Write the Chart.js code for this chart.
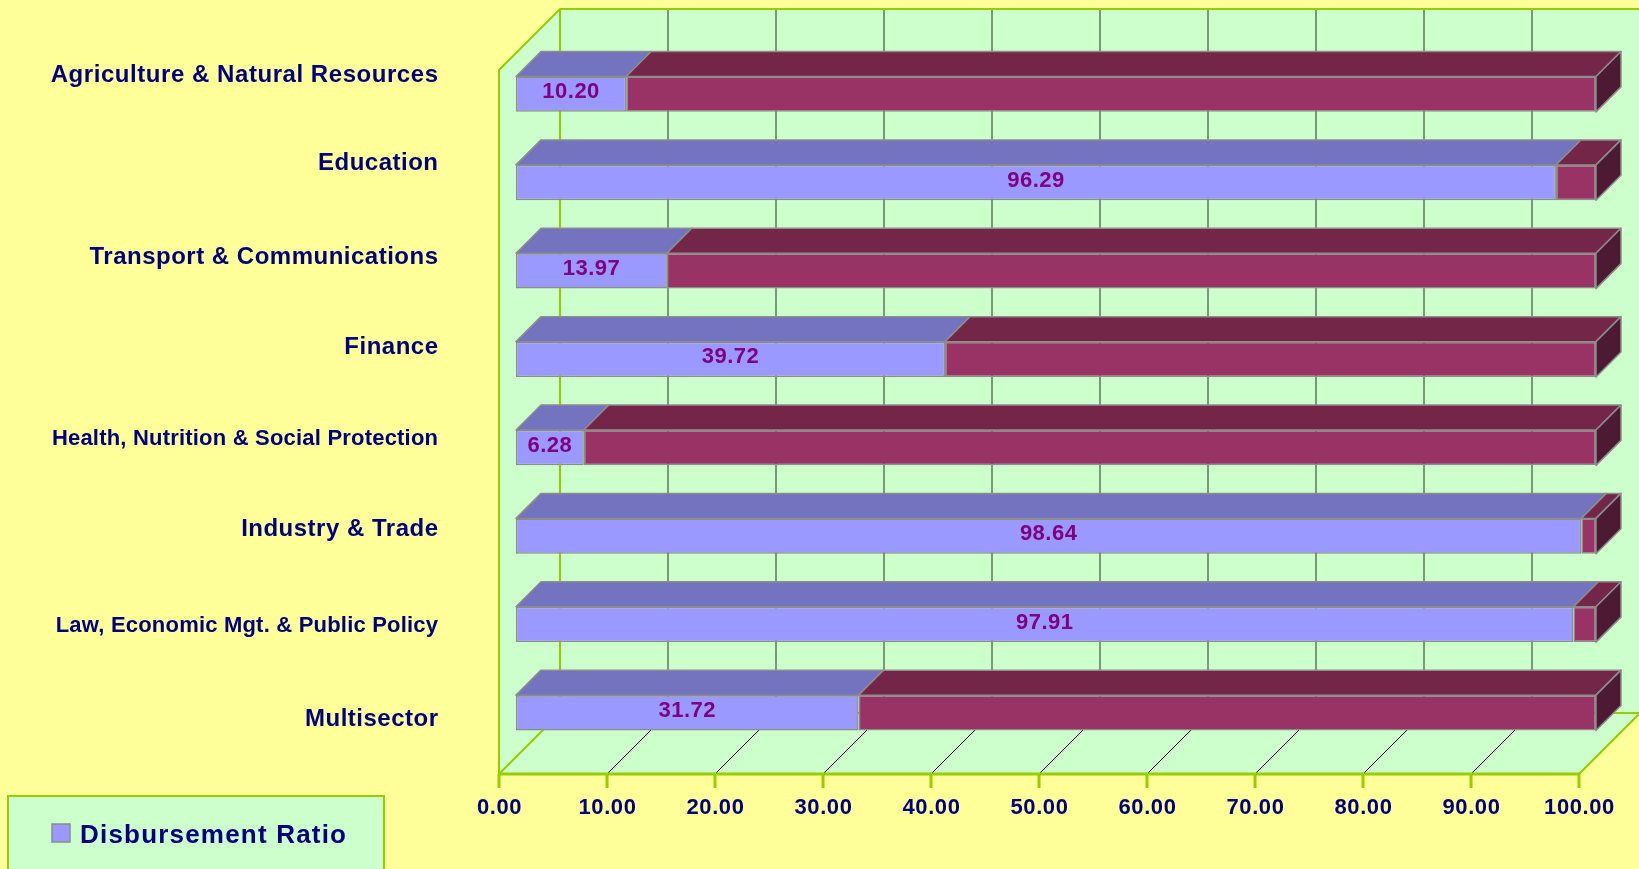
<!DOCTYPE html>
<html lang="en">
<head>
<meta charset="UTF-8">
<title>Disbursement Ratio by Sector</title>
<script src="https://cdn.jsdelivr.net/npm/chart.js@4"></script>
<style>
    body { margin: 0; background: #FFFF99; overflow: hidden; }
    #wrap { width: 1639px; height: 869px; }
</style>
</head>
<body>
<div id="wrap"><canvas id="ratioChart" width="1639" height="869"></canvas></div>
<script>
// Data
const sectors = [
    'Agriculture & Natural Resources',
    'Education',
    'Transport & Communications',
    'Finance',
    'Health, Nutrition & Social Protection',
    'Industry & Trade',
    'Law, Economic Mgt. & Public Policy',
    'Multisector'
];
const disbursementRatio = [10.20, 96.29, 13.97, 39.72, 6.28, 98.64, 97.91, 31.72];
const remainingShare = [89.80, 3.71, 86.03, 60.28, 93.72, 1.36, 2.09, 68.28];
const xTickValues = [0, 10, 20, 30, 40, 50, 60, 70, 80, 90, 100];
const legendLabel = 'Disbursement Ratio';

// styling (label sizes / offsets from the bar rows, like the Excel original)
const labelSize = [24, 24, 24, 24, 22, 24, 22, 24];
const labelSpacing = [0.55, 0.5, 0.5, 0.5, 0.2, 0.5, 0.2, 0.5];
const labelShift = [-35.5, -36, -31, -29, -25.5, -24, -15.5, -10];
const YELLOW = '#FFFF99', WALL = '#CCFFCC', EDGE = '#99CC00', NAVY = '#000080';
const PURPLE = '#9999FF', PURPLE_TOP = '#7373BF';
const MAROON = '#993366', MAROON_TOP = '#732648', MAROON_SIDE = '#4D1A33';
const OUTLINE = '#8C8C8C';
const DEPTH = 61;      // wall depth
const BAR_OFF = 17;    // bar front plane inside the box
const BAR_DEPTH = 25;  // bar thickness in depth
const FONT = '"Liberation Sans", Arial, sans-serif';

const boxPlugin = {
    id: 'box3d',
    beforeDraw(chart) {
        const { ctx, chartArea: { left, right, top, bottom }, scales: { x, y } } = chart;
        const wallTop = top + 3;
        ctx.save();
        ctx.fillStyle = YELLOW;
        ctx.fillRect(0, 0, chart.width, chart.height);

        // walls + floor
        ctx.fillStyle = WALL;
        ctx.fillRect(left + DEPTH, wallTop - DEPTH, right - left, bottom - wallTop);
        ctx.beginPath();
        ctx.moveTo(left, wallTop); ctx.lineTo(left + DEPTH, wallTop - DEPTH);
        ctx.lineTo(left + DEPTH, bottom - DEPTH); ctx.lineTo(left, bottom);
        ctx.closePath(); ctx.fill();
        ctx.beginPath();
        ctx.moveTo(left, bottom); ctx.lineTo(right, bottom);
        ctx.lineTo(right + DEPTH, bottom - DEPTH); ctx.lineTo(left + DEPTH, bottom - DEPTH);
        ctx.closePath(); ctx.fill();

        // back wall grid
        ctx.strokeStyle = '#5A7A5A'; ctx.lineWidth = 1.5;
        xTickValues.slice(1).forEach(v => {
            const px = x.getPixelForValue(v) + DEPTH;
            ctx.beginPath(); ctx.moveTo(px, wallTop - DEPTH); ctx.lineTo(px, bottom - DEPTH); ctx.stroke();
        });
        // floor grid
        ctx.strokeStyle = '#000000'; ctx.lineWidth = 1;
        xTickValues.slice(1, -1).forEach(v => {
            const px = x.getPixelForValue(v);
            ctx.beginPath(); ctx.moveTo(px, bottom); ctx.lineTo(px + DEPTH, bottom - DEPTH); ctx.stroke();
        });

        // green edges
        ctx.strokeStyle = EDGE; ctx.lineWidth = 2;
        ctx.beginPath();
        ctx.moveTo(left, bottom); ctx.lineTo(left, wallTop);
        ctx.lineTo(left + DEPTH, wallTop - DEPTH); ctx.lineTo(right + DEPTH, wallTop - DEPTH);
        ctx.moveTo(left + DEPTH, wallTop - DEPTH); ctx.lineTo(left + DEPTH, bottom - DEPTH);
        ctx.lineTo(right + DEPTH, bottom - DEPTH);
        ctx.moveTo(left, bottom); ctx.lineTo(left + DEPTH, bottom - DEPTH);
        ctx.moveTo(right, bottom); ctx.lineTo(right + DEPTH, bottom - DEPTH);
        ctx.stroke();

        // x axis line + ticks
        ctx.lineWidth = 3;
        ctx.beginPath(); ctx.moveTo(left, bottom); ctx.lineTo(right, bottom); ctx.stroke();
        xTickValues.forEach(v => {
            const px = x.getPixelForValue(v);
            ctx.beginPath(); ctx.moveTo(px, bottom); ctx.lineTo(px, bottom + 14); ctx.stroke();
        });

        // x tick labels
        ctx.fillStyle = NAVY;
        ctx.font = 'bold 22px ' + FONT;
        ctx.textAlign = 'center'; ctx.textBaseline = 'middle';
        ctx.letterSpacing = '0.6px';
        xTickValues.forEach(v => ctx.fillText(v.toFixed(2), x.getPixelForValue(v) + 0.5, bottom + 34));

        // category labels
        ctx.textAlign = 'right';
        sectors.forEach((s, i) => {
            ctx.font = 'bold ' + labelSize[i] + 'px ' + FONT;
            ctx.letterSpacing = labelSpacing[i] + 'px';
            ctx.fillText(s, 438 + labelSpacing[i], y.getPixelForValue(i) + labelShift[i]);
        });

        // legend
        ctx.letterSpacing = '0px';
        ctx.fillStyle = WALL; ctx.strokeStyle = EDGE; ctx.lineWidth = 2;
        ctx.fillRect(8, 796, 376, 80); ctx.strokeRect(8, 796, 376, 80);
        ctx.fillStyle = PURPLE; ctx.strokeStyle = OUTLINE; ctx.lineWidth = 1.5;
        ctx.fillRect(52, 824, 18, 18); ctx.strokeRect(52, 824, 18, 18);
        ctx.fillStyle = NAVY;
        ctx.font = 'bold 26px ' + FONT;
        ctx.textAlign = 'left';
        ctx.letterSpacing = '1.2px';
        ctx.fillText(legendLabel, 80, 836);
        ctx.restore();
    },
    beforeDatasetsDraw(chart) {
        const { ctx } = chart;
        ctx.save();
        ctx.translate(BAR_OFF, -BAR_OFF);
        const tops = [PURPLE_TOP, MAROON_TOP];
        const last = chart.data.datasets.length - 1;
        chart.data.datasets.forEach((ds, di) => {
            chart.getDatasetMeta(di).data.forEach(bar => {
                const { x, y, base, height } = bar.getProps(['x', 'y', 'base', 'height'], true);
                const t = y - height / 2, b = y + height / 2;
                ctx.strokeStyle = OUTLINE; ctx.lineWidth = 1.5; ctx.lineJoin = 'round';
                ctx.fillStyle = tops[di];
                ctx.beginPath();
                ctx.moveTo(base, t); ctx.lineTo(base + BAR_DEPTH, t - BAR_DEPTH);
                ctx.lineTo(x + BAR_DEPTH, t - BAR_DEPTH); ctx.lineTo(x, t);
                ctx.closePath(); ctx.fill(); ctx.stroke();
                if (di === last) {
                    ctx.fillStyle = MAROON_SIDE;
                    ctx.beginPath();
                    ctx.moveTo(x, t); ctx.lineTo(x + BAR_DEPTH, t - BAR_DEPTH);
                    ctx.lineTo(x + BAR_DEPTH, b - BAR_DEPTH); ctx.lineTo(x, b);
                    ctx.closePath(); ctx.fill(); ctx.stroke();
                }
            });
        });
    },
    afterDatasetsDraw(chart) {
        const { ctx } = chart;
        ctx.fillStyle = '#800080';
        ctx.font = 'bold 22px ' + FONT;
        ctx.textAlign = 'center'; ctx.textBaseline = 'middle';
        ctx.letterSpacing = '0.5px';
        chart.getDatasetMeta(0).data.forEach((bar, i) => {
            const { x, y, base } = bar.getProps(['x', 'y', 'base'], true);
            ctx.fillText(disbursementRatio[i].toFixed(2), (x + base) / 2, y - 2);
        });
        ctx.restore();
    }
};

new Chart(document.getElementById('ratioChart'), {
    type: 'bar',
    data: {
        labels: sectors,
        datasets: [
            { label: legendLabel, data: disbursementRatio, backgroundColor: PURPLE, borderColor: OUTLINE, borderWidth: 1.5, borderSkipped: false, clip: false },
            { label: 'Remaining', data: remainingShare, backgroundColor: MAROON, borderColor: OUTLINE, borderWidth: 1.5, borderSkipped: false, clip: false }
        ]
    },
    options: {
        indexAxis: 'y',
        responsive: false,
        animation: false,
        devicePixelRatio: 1,
        layout: { padding: { left: 499, right: 60, top: 67, bottom: 95 } },
        datasets: { bar: { categoryPercentage: 1, barPercentage: 0.4 } },
        scales: {
            x: { stacked: true, min: 0, max: 100, display: false },
            y: { stacked: true, display: false }
        },
        plugins: { legend: { display: false }, tooltip: { enabled: false } }
    },
    plugins: [boxPlugin]
});
</script>
</body>
</html>
